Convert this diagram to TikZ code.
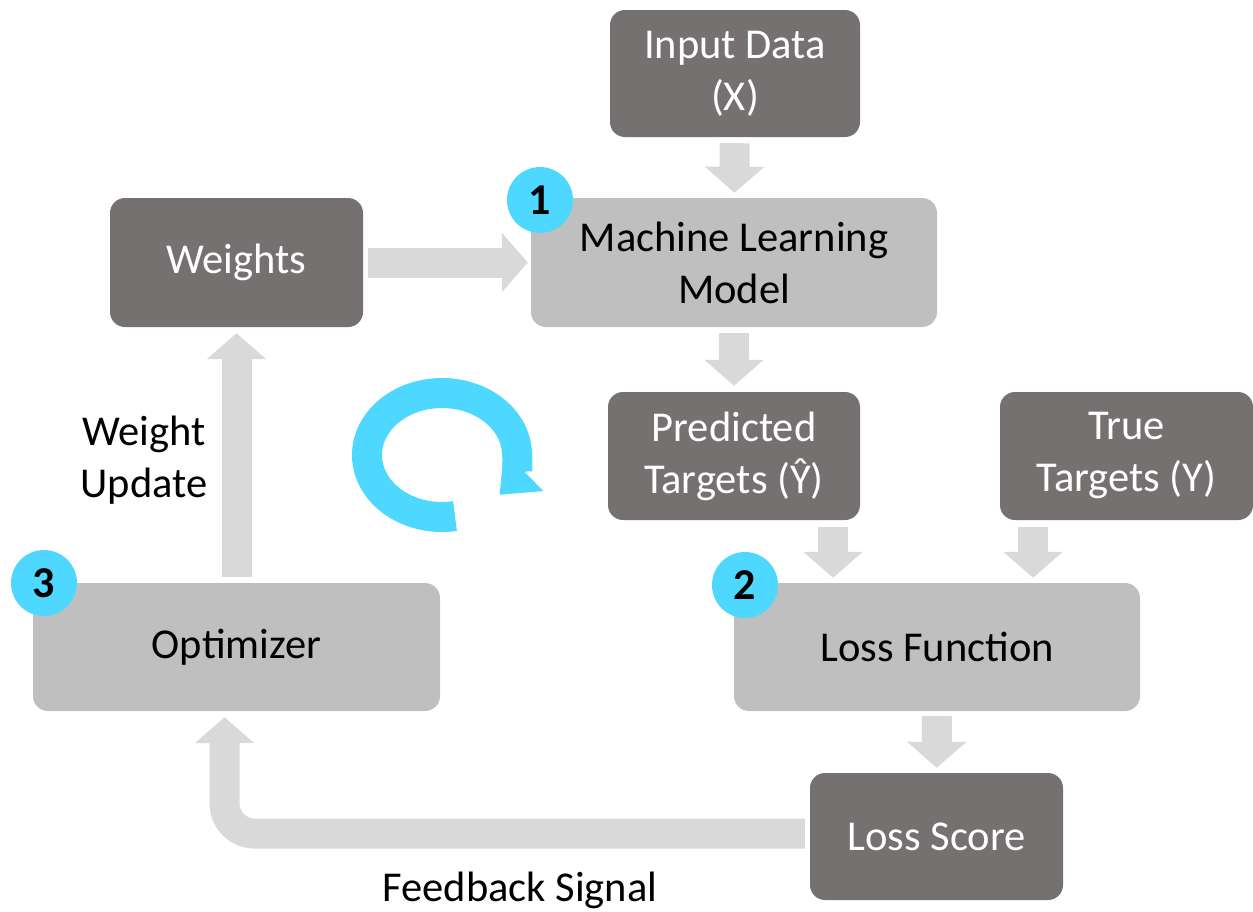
\documentclass[tikz,border=0pt]{standalone}
\usepackage{fontspec}
\setmainfont{Carlito}
\usetikzlibrary{arrows.meta,calc,positioning}

\definecolor{boxdark}{HTML}{767171}
\definecolor{boxlight}{HTML}{BFBFBF}
\definecolor{arrowgray}{HTML}{D9D9D9}
\definecolor{badgeblue}{HTML}{4FD8FF}

\begin{document}
\begin{tikzpicture}
[
	                x = 1pt,
	                y = -1pt,
	 darkbox/.style = { fill=boxdark, text=white, rounded corners=15pt, align=center,
	                    font=\fontsize{42.5}{52}\selectfont },
	lightbox/.style = { darkbox, fill=boxlight, text=black },
	   badge/.style = { circle, fill=badgeblue, minimum size=66pt, inner sep=0pt,
	                    font=\fontsize{44}{44}\selectfont\bfseries },
	   label/.style = { draw=none, fill=none, align=center,
	                    font=\fontsize{42.5}{52}\selectfont },
	blockarr/.style = { draw=arrowgray, line width=30pt,
	                    -{Triangle[width=58pt,length=26pt]} }
]
	\useasboundingbox (0,0) rectangle (1253,911);

	% boxes
	\node (input) at (735,73.5)    [darkbox, minimum width=250pt, minimum height=127pt] {Input Data\\(X)};
	\node (weights) at (236.5,262.5) [darkbox, minimum width=253pt, minimum height=129pt] {Weights};
	\node (model) at (734,262.5)   [lightbox, minimum width=406pt, minimum height=129pt] {Machine Learning\\Model};
	\node (predicted) at (734,456) [darkbox, minimum width=252pt, minimum height=128pt] {Predicted\\Targets (Ŷ)};
	\node (truetargets) at (1126.5,456) [darkbox, minimum width=253pt, minimum height=128pt] {True\\Targets (Y)};
	\node (lossfn) at (937,647)    [lightbox, minimum width=406pt, minimum height=128pt] {Loss Function};
	\node (optimizer) at (236.5,647) [lightbox, minimum width=407pt, minimum height=128pt] {Optimizer};
	\node (lossscore) at (936.5,836.5) [darkbox, minimum width=253pt, minimum height=127pt] {Loss Score};

	% step badges
	\node (badge1) at (540,200) [badge] {1};
	\node (badge2) at (745,585) [badge] {2};
	\node (badge3) at (44,583)  [badge] {3};

	% block arrows
	\draw [blockarr, shorten <=6pt, shorten >=5pt] (input) -- (model);
	\draw [blockarr, shorten <=5pt, shorten >=3pt] (weights) -- (model);
	\draw [blockarr, shorten <=6pt, shorten >=6pt] (model) -- (predicted);
	\draw [blockarr, shorten <=7pt, shorten >=5pt]
		([xshift=-104pt]lossfn.north |- predicted.south) -- ([xshift=-104pt]lossfn.north);
	\draw [blockarr, shorten <=7pt, shorten >=5pt]
		([xshift=96pt]lossfn.north |- truetargets.south) -- ([xshift=96pt]lossfn.north);
	\draw [blockarr, shorten <=5pt, shorten >=5pt] (lossfn) -- (lossscore);
	\draw [blockarr, shorten <=6pt, shorten >=6pt] (optimizer) -- (weights);
	\draw [blockarr, rounded corners=30pt, shorten <=5pt, shorten >=6pt]
		([yshift=3pt]lossscore.west) -| ([xshift=-12pt]optimizer.south);

	% loop sign
	\coordinate (loopc) at (442,455);
	\draw [draw=badgeblue, line width=30pt, -{Triangle[width=54pt,length=34pt]}]
		($(loopc)+(-80:75pt and 62pt)$) arc [start angle=-80, end angle=-400, x radius=75pt, y radius=62pt];

	% labels
	\node (wupdate) at (144,460)  [label] {Weight\\Update};
	\node (feedback) at (520,890) [label] {Feedback Signal};

\end{tikzpicture}
\end{document}
